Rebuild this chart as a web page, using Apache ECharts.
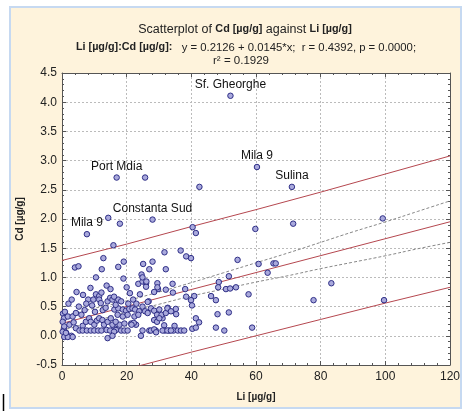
<!DOCTYPE html>
<html>
<head>
<meta charset="UTF-8">
<title>Scatterplot Cd vs Li</title>
<script src="https://cdn.jsdelivr.net/npm/echarts@6/dist/echarts.min.js"></script>
<style>
  html, body { margin: 0; padding: 0; background: #ffffff; }
  #chart { width: 463px; height: 411px; }
</style>
</head>
<body>
<div id="chart"></div>
<script>
// Li [µg/g], Cd [µg/g] pairs
const points = [
  [25.7,2.71],[42.5,2.55],[14.3,2.02],[17.9,1.92],[15.9,1.55],[31.7,1.43],
  [40.4,1.86],[41.4,1.76],[59.8,1.83],[71.5,1.92],[99.2,2.01],
  [36.7,1.46],[38.4,1.36],[39.9,1.33],[54.3,1.30],[60.8,1.23],[65.4,1.24],[66.1,1.24],
  [63.6,1.08],[83.3,0.90],[77.8,0.61],[99.6,0.61],
  [28.0,1.27],[32.1,1.14],[51.6,1.02],[48.5,0.92],[48.3,0.83],[53.8,0.83],[50.7,0.80],[52.0,0.81],
  [57.7,0.71],[46.1,0.68],[47.6,0.61],[40.9,0.68],[39.9,0.61],[40.2,0.52],[38.1,0.80],[35.2,0.46],
  [35.3,0.37],[32.1,0.79],[29.7,0.80],[28.5,0.75],[32.7,0.48],[41.4,0.30],[42.4,0.23],[48.1,0.37],
  [51.6,0.40],[40.3,0.12],[41.4,0.14],[47.6,0.14],[50.2,0.09],[58.8,0.14],[31.6,0.18],[34.8,0.17],
  [27.0,0.09],[29.0,0.09],[31.8,0.09],[33.1,0.09],[34.5,0.09],[35.8,0.09],[36.8,0.09],[37.8,0.09],
  [31.1,0.30],[34.3,0.74],[38.4,0.67],
  [17.4,1.18],[19.1,1.27],[25.1,1.23],[27.0,1.14],[20.0,0.83],[23.6,0.89],[24.9,0.93],[26.0,0.90],
  [26.0,0.84],[29.5,0.90],[29.5,0.83],[24.1,0.71],[17.4,0.62],[18.3,0.59],
  [16.2,0.45],[17.4,0.47],[18.8,0.45],[19.8,0.43],[20.8,0.46],[21.8,0.47],[22.6,0.45],[23.9,0.42],
  [17.2,0.36],[18.8,0.33],[20.3,0.36],[22.4,0.33],[23.6,0.36],
  [24.9,0.50],[25.7,0.42],[26.5,0.39],[27.5,0.47],[28.5,0.43],[29.4,0.36],[30.1,0.45],[30.8,0.36],
  [32.1,0.39],[32.6,0.47],[33.7,0.42],
  [28.5,0.27],[29.4,0.24],[30.1,0.30],
  [16.2,0.13],[16.7,0.10],[17.8,0.19],[19.3,0.21],[21.4,0.21],[22.9,0.19],
  [18.3,0.09],[19.3,0.09],[20.3,0.09],
  [24.9,0.09],[27.5,0.09],[28.5,0.11],[29.1,0.06],[31.1,0.09],[32.6,0.09],[33.7,0.09],
  [24.4,0.00],
  [4.0,1.17],[5.1,1.19],[12.8,1.33],[12.3,1.14],[24.6,1.05],[24.9,1.00],[26.1,0.93],[8.8,0.82],
  [26.8,0.59],[34.2,0.89],[22.2,0.22],[21.5,0.19],[0.6,0.13],[1.3,0.05],[2.9,0.00],[0.3,0.38],[0.6,0.30],
  [13.8,0.86],[10.5,0.71],[11.5,0.68],[12.2,0.74],[8.1,0.62],[9.7,0.62],[11.5,0.62],[12.0,0.56],
  [14.1,0.59],[14.9,0.65],[15.6,0.62],[16.1,0.67],[16.6,0.53],
  [0.9,0.41],[1.8,0.33],[3.3,0.33],[4.3,0.39],
  [0.2,0.24],[0.7,0.16],[2.3,0.19],[3.6,0.23],[4.3,0.13],[6.4,0.17],[7.4,0.24],[8.4,0.30],[8.9,0.24],
  [10.0,0.19],[10.8,0.26],[11.5,0.30],[12.5,0.27],[13.0,0.19],[14.1,0.24],[15.1,0.30],[15.6,0.19],[16.6,0.24],
  [5.4,0.09],[6.4,0.09],[7.7,0.09],[8.9,0.09],[10.0,0.09],[11.2,0.09],[12.2,0.09],[13.8,0.10],[14.9,0.09],[16.1,0.07],
  [0.7,-0.02],[1.8,-0.02],[3.3,-0.02],[0.2,0.07],[1.2,0.05],[14.1,-0.04],[15.6,0.00],
  [5.2,0.50],[7.0,0.44],[9.3,0.52],[6.0,0.36],[10.2,0.41],[12.6,0.44],[13.5,0.48],[2.0,0.55],
  [3.0,0.62],[6.5,0.70],[4.5,0.75],[15.0,0.80],[10.5,1.00],[19.0,0.98],[21.0,0.73],[22.0,0.62],
  [20.5,0.55],[23.0,0.55],[26.5,0.58],[7.5,0.55]
];

// labelled stations
const stationNames = ['Sf. Gheorghe', 'Mila 9', 'Port Mdia', 'Constanta Sud', 'Mila 9', 'Sulina'];
const stationPoints = [[52.1,4.11],[60.3,2.89],[16.9,2.71],[28.0,1.99],[7.7,1.74],[71.1,2.55]];

// regression y = 0.2126 + 0.0145*x, and its bands
const fitX = [0, 120];
const fitY = [0.2126, 1.9526];
const bandX = [0, 20, 40, 60, 80, 100, 120];
const predUpper = [1.29, 1.57, 1.87, 2.16, 2.46, 2.77, 3.08];
const predLower = [-0.86, -0.57, -0.28, 0.00, 0.28, 0.56, 0.83];
const confX = [0, 10, 20, 30, 40, 50, 60, 70, 80, 90, 100, 110, 120];
const confUpper = [0.34, 0.47, 0.60, 0.75, 0.91, 1.08, 1.25, 1.42, 1.60, 1.78, 1.95, 2.13, 2.31];
const confLower = [0.09, 0.25, 0.40, 0.54, 0.68, 0.80, 0.92, 1.03, 1.15, 1.26, 1.37, 1.49, 1.60];

const xTicks = [0, 20, 40, 60, 80, 100, 120];
const yTicks = [-0.5, 0, 0.5, 1, 1.5, 2, 2.5, 3, 3.5, 4, 4.5];

const FONT = 'Liberation Sans, Arial, sans-serif';
const RED = '#b5474f';
const zip = (xs, ys) => xs.map((x, i) => [x, ys[i]]);

const chart = echarts.init(document.getElementById('chart'));

const axisCommon = {
  axisLine: { show: true, onZero: false, lineStyle: { color: '#555', width: 1 } },
  axisTick: { show: true, inside: true, length: 4, lineStyle: { color: '#555' } },
  minorTick: { show: true, splitNumber: 5, length: 2, lineStyle: { color: '#555' } }
};
const boldRich = { b: { fontFamily: FONT, fontSize: 10.8, fontWeight: 'bold', color: '#222' } };

chart.setOption({
  backgroundColor: '#ffffff',
  animation: false,
  graphic: [
    { type: 'rect', z: -10, shape: { x: 10, y: 7, width: 451, height: 401 },
      style: { fill: '#fef3dc', stroke: '#c6d9f1', lineWidth: 2 } },
    { type: 'line', shape: { x1: 3.5, y1: 394, x2: 3.5, y2: 411 },
      style: { stroke: '#000', lineWidth: 1.5 } }
  ],
  title: [
    { text: 'Scatterplot of {b|Cd [µg/g]} against {b|Li [µg/g]}', left: 240, top: 18, textAlign: 'center',
      textStyle: { fontFamily: FONT, fontSize: 12.5, fontWeight: 'normal', color: '#222', rich: boldRich } },
    { text: '{b|Li [µg/g]:Cd [µg/g]:}   y = 0.2126 + 0.0145*x;  r = 0.4392, p = 0.0000;', left: 241, top: 37, textAlign: 'center',
      textStyle: { fontFamily: FONT, fontSize: 11.3, fontWeight: 'normal', color: '#222', rich: boldRich } },
    { text: 'r² = 0.1929', left: 236, top: 50, textAlign: 'center',
      textStyle: { fontFamily: FONT, fontSize: 11.5, fontWeight: 'normal', color: '#222' } }
  ],
  grid: { left: 62, right: 10, top: 73, bottom: 46, backgroundColor: '#ffffff', show: true, borderWidth: 0 },
  xAxis: [
    Object.assign({
      type: 'value', min: xTicks[0], max: xTicks[xTicks.length - 1], interval: 20,
      name: 'Li [µg/g]', nameLocation: 'middle', nameGap: 27,
      nameTextStyle: { fontFamily: FONT, fontSize: 10, fontWeight: 'bold', color: '#222' },
      axisLabel: { fontFamily: FONT, fontSize: 12, color: '#222', margin: 6 },
      splitLine: { show: true, lineStyle: { color: '#bbb', type: [2, 2] } }
    }, axisCommon),
    Object.assign({
      type: 'value', position: 'top', min: xTicks[0], max: xTicks[xTicks.length - 1], interval: 20,
      axisLabel: { show: false }, splitLine: { show: false }
    }, axisCommon)
  ],
  yAxis: [
    Object.assign({
      type: 'value', min: yTicks[0], max: yTicks[yTicks.length - 1], interval: 0.5,
      name: 'Cd [µg/g]', nameLocation: 'middle', nameGap: 27,
      nameTextStyle: { fontFamily: FONT, fontSize: 10, fontWeight: 'bold', color: '#222' },
      axisLabel: { fontFamily: FONT, fontSize: 12, color: '#222', margin: 5,
        formatter: v => v.toFixed(1) },
      splitLine: { show: true, lineStyle: { color: '#bbb', type: [2, 2] } }
    }, axisCommon),
    Object.assign({
      type: 'value', position: 'right', min: yTicks[0], max: yTicks[yTicks.length - 1], interval: 0.5,
      axisLabel: { show: false }, splitLine: { show: false }
    }, axisCommon)
  ],
  series: [
    { type: 'line', data: zip(bandX, predUpper), symbol: 'none', clip: true,
      lineStyle: { color: RED, width: 1 }, z: 2 },
    { type: 'line', data: zip(bandX, predLower), symbol: 'none', clip: true,
      lineStyle: { color: RED, width: 1 }, z: 2 },
    { type: 'line', data: zip(fitX, fitY), symbol: 'none', clip: true,
      lineStyle: { color: RED, width: 1 }, z: 2 },
    { type: 'line', data: zip(confX, confUpper), symbol: 'none', smooth: true, clip: true,
      lineStyle: { color: '#888', width: 1, type: [3, 2] }, z: 2 },
    { type: 'line', data: zip(confX, confLower), symbol: 'none', smooth: true, clip: true,
      lineStyle: { color: '#888', width: 1, type: [3, 2] }, z: 2 },
    { type: 'scatter', data: points, symbolSize: 5.5, z: 3,
      itemStyle: { color: '#a9a9dc', borderColor: '#2e2e86', borderWidth: 1, opacity: 1 } },
    { type: 'scatter', symbolSize: 5.5, z: 4,
      data: stationPoints.map((p, i) => ({ value: p, name: stationNames[i] })),
      itemStyle: { color: '#a9a9dc', borderColor: '#2e2e86', borderWidth: 1, opacity: 1 },
      label: { show: true, position: 'top', distance: 2, formatter: '{b}',
        fontFamily: FONT, fontSize: 12, color: '#111' } }
  ]
});
</script>
</body>
</html>
